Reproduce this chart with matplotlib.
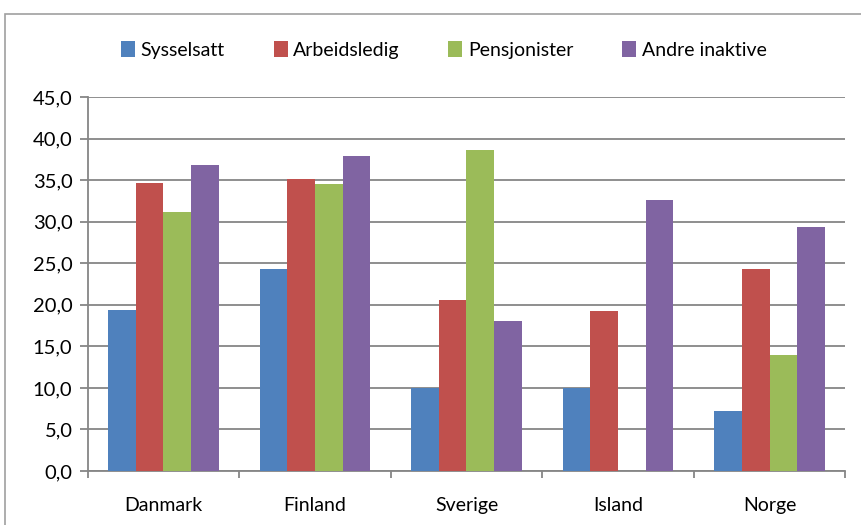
import numpy as np
import matplotlib.pyplot as plt
from matplotlib.patches import Rectangle

# data
land = ['Danmark', 'Finland', 'Sverige', 'Island', 'Norge']
sysselsatt = [19.4, 24.3, 10.0, 10.0, 7.2]
arbeidsledig = [34.7, 35.1, 20.6, 19.3, 24.3]
pensjonister = [31.2, 34.5, 38.6, 0.0, 13.9]
andre_inaktive = [36.8, 37.9, 18.0, 32.6, 29.3]

serier = ['Sysselsatt', 'Arbeidsledig', 'Pensjonister', 'Andre inaktive']
farger = ['#4F81BD', '#C0504D', '#9BBB59', '#8064A2']
yticks = np.arange(0, 46, 5)

plt.rcParams['font.family'] = ['Lato', 'DejaVu Sans']
grey = '#868686'
fs = 14

fig = plt.figure(figsize=(8.62, 5.25), dpi=100)
# outer chart frame
fig.patches.append(Rectangle((5/862, -0.1), 1.2, 1 - 14/525 + 0.1, transform=fig.transFigure,
                             fill=False, edgecolor='#a0a0a0', linewidth=1.2))

ax = fig.add_axes([87.7/862, 54/525, (845.3-87.7)/862, (471-97)/525])

x = np.arange(len(land))
w = 1/5.5
for i, (vals, navn, c) in enumerate(zip([sysselsatt, arbeidsledig, pensjonister, andre_inaktive], serier, farger)):
    ax.bar(x + (i - 1.5)*w, vals, w, color=c, label=navn, zorder=3)

ax.set_xlim(-0.5, len(land) - 0.5)
ax.set_ylim(0, 45)
ax.set_yticks(yticks)
ax.set_yticklabels([f'{v:.1f}'.replace('.', ',') for v in yticks], fontsize=fs + 0.5)
ax.set_xticks(x)
ax.set_xticklabels(land, fontsize=fs)
ax.set_xticks(np.arange(-0.5, len(land), 1), minor=True)
ax.tick_params(axis='x', which='major', length=0, pad=19)
ax.tick_params(axis='x', which='minor', length=5, width=1.3, color=grey)
ax.tick_params(axis='y', length=6, width=1.3, color=grey, pad=5)

ax.grid(axis='y', color=grey, linewidth=1.3, zorder=0)
ax.set_axisbelow(True)
for s in ['top', 'right']:
    ax.spines[s].set_visible(False)
for s in ['left', 'bottom']:
    ax.spines[s].set_color(grey)
    ax.spines[s].set_linewidth(1.3)

fig.legend(loc='center', bbox_to_anchor=(444/862, 1 - 50/525), ncol=4, frameon=False,
           fontsize=fs, handlelength=0.72, handleheight=0.85, handletextpad=0.3,
           columnspacing=2.5)

fig.savefig('out.png', dpi=100)
